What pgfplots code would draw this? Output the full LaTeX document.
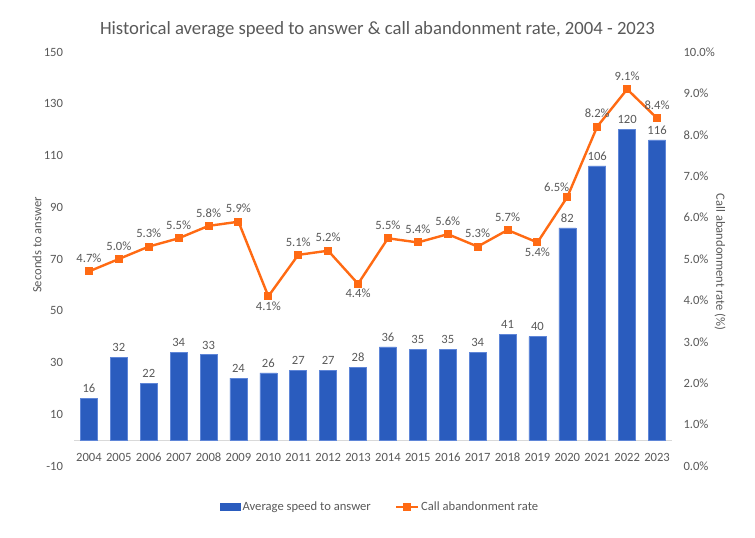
\documentclass[border=0pt]{standalone}
\usepackage{pgfplots}
\pgfplotsset{compat=1.18}
\usepackage{pgfplotstable}
\usepackage{fontspec}
\setmainfont{Carlito}

\definecolor{barblue}{HTML}{2A5CBE}
\definecolor{baredge}{HTML}{5F86D8}
\definecolor{rateorange}{HTML}{FF6A13}
\definecolor{txt}{HTML}{595959}
\definecolor{base}{HTML}{D9D9D9}

% year index, seconds to answer, abandonment rate (%), label anchor
\pgfplotstableread{
idx year asa rate anc
0 2004 16 4.7 south
1 2005 32 5.0 south
2 2006 22 5.3 south
3 2007 34 5.5 south
4 2008 33 5.8 south
5 2009 24 5.9 south
6 2010 26 4.1 north
7 2011 27 5.1 south
8 2012 27 5.2 south
9 2013 28 4.4 north
10 2014 36 5.5 south
11 2015 35 5.4 south
12 2016 35 5.6 south
13 2017 34 5.3 south
14 2018 41 5.7 south
15 2019 40 5.4 north
16 2020 82 6.5 south-east
17 2021 106 8.2 south
18 2022 120 9.1 south
19 2023 116 8.4 south
}\data

\newcommand{\lbfont}{\fontsize{12.6}{15}\selectfont}

\pgfplotsset{
  common/.style={
    at={(74pt,72pt)}, anchor=south west,
    scale only axis, width=598pt, height=414pt,
    xmin=-0.5, xmax=19.5,
    axis line style={draw=none},
    major tick length=0pt,
    tick label style={font=\lbfont, text=txt},
    /pgf/number format/assume math mode=true,
  },
  lbl/south/.style={anchor=south, yshift=4.5pt},
  lbl/north/.style={anchor=north, yshift=-1pt},
  lbl/south-east/.style={anchor=south east, xshift=6pt, yshift=1pt},
}

\begin{document}
\begin{tikzpicture}[x=1pt,y=1pt]
\useasboundingbox (0,0) rectangle (755,538);

\begin{axis}[common,
  ymin=-10, ymax=150,
  ytick={-10,10,...,150},
  yticklabel style={xshift=-7.5pt},
  xtick=data,
  xticklabels from table={\data}{year},
  xticklabel style={anchor=center, yshift=9pt},
]
\draw[base, line width=1.2pt] (axis cs:-0.5,0) -- (axis cs:19.5,0);
\addplot[ybar, bar width=0.57, fill=barblue, draw=baredge, line width=0.6pt,
  nodes near coords,
  every node near coord/.append style={font=\lbfont, text=txt, yshift=2pt}]
  table[x=idx, y=asa] {\data};
\end{axis}

\begin{axis}[common,
  ymin=0, ymax=10,
  ytick={0,1,...,10},
  yticklabel pos=right,
  yticklabel={\pgfmathprintnumber[fixed,fixed zerofill,precision=1]{\tick}\%},
  yticklabel style={xshift=8pt},
  xtick=\empty,
  legend style={draw=none, fill=none, at={(0.512,-0.099)}, anchor=center,
    font=\lbfont, text=txt,
    legend columns=2, /tikz/every even column/.append style={column sep=22pt}},
]
\addlegendimage{legend image code/.code={\fill[barblue] (0pt,-3.5pt) rectangle (20pt,3.5pt);}}
\addlegendentry{Average speed to answer}
\addplot[rateorange, line width=2.4pt, mark=square*, mark size=2.8pt,
  mark options={solid},
  legend image code/.code={\draw[rateorange, line width=2.4pt] (0pt,0pt) -- (22pt,0pt);
    \fill[rateorange] (8.2pt,-2.8pt) rectangle (13.8pt,2.8pt);}]
  table[x=idx, y=rate] {\data};
\addlegendentry{Call abandonment rate}
% data labels for the rate line
\addplot[draw=none, mark=none, forget plot,
  point meta=explicit symbolic,
  nodes near coords={\pgfmathprintnumber[fixed,fixed zerofill,precision=1]{\pgfkeysvalueof{/data point/y}}\%},
  every node near coord/.append style={font=\lbfont, text=txt, inner sep=4pt, /pgfplots/lbl/\pgfplotspointmeta}]
  table[x=idx, y=rate, meta=anc] {\data};
\end{axis}

\node[text=txt, font=\fontsize{18.7}{22}\selectfont] at (377.5,508) {Historical average speed to answer \& call abandonment rate, 2004 - 2023};
\node[text=txt, font=\lbfont, rotate=90] at (37,293) {Seconds to answer};
\node[text=txt, font=\lbfont, rotate=-90] at (720,276) {Call abandonment rate (\%)};
\end{tikzpicture}
\end{document}
